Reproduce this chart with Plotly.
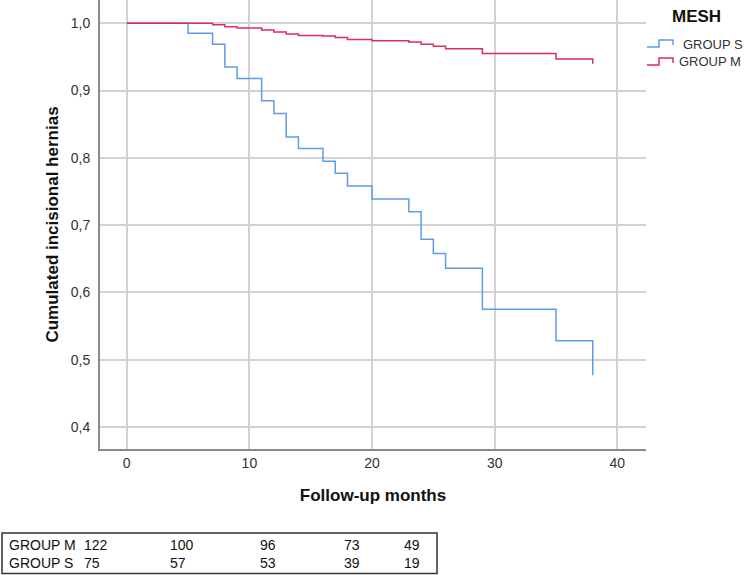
import plotly.graph_objects as go

# ---------------- data ----------------
months_s = [0, 5, 7, 8, 9, 11, 12, 13, 14, 16, 17, 18, 20, 23, 24, 25, 26, 29, 35, 38]
surv_s = [1.0, 0.985, 0.969, 0.935, 0.918, 0.885, 0.866, 0.831, 0.814, 0.795,
          0.777, 0.758, 0.739, 0.720, 0.679, 0.658, 0.636, 0.575, 0.528, 0.477]

months_m = [0, 7, 8, 9, 11, 12, 13, 14, 16, 17, 18, 20, 23, 24, 25, 26, 29, 35, 38]
surv_m = [1.0, 0.998, 0.995, 0.993, 0.990, 0.987, 0.984, 0.982, 0.981, 0.979,
          0.976, 0.974, 0.972, 0.969, 0.966, 0.962, 0.955, 0.947, 0.940]

series_names = ["GROUP S", "GROUP M"]
series_colors = ["#5e9ce8", "#dc2f55"]

risk_groups = ["GROUP M", "GROUP S"]
risk_m = [122, 100, 96, 73, 49]
risk_s = [75, 57, 53, 39, 19]

x_ticks = [0, 10, 20, 30, 40]
y_ticks = [0.4, 0.5, 0.6, 0.7, 0.8, 0.9, 1.0]

# ---------------- layout constants ----------------
W, H = 745, 575
ML, MR, MT, MB = 100, 99, 0, 126
PW = W - ML - MR
PH = H - MT - MB

def px(x):
    return (x - ML) / PW

def py(y):
    return (H - MB - y) / PH

FONT = "Liberation Sans, Arial, sans-serif"

fig = go.Figure()
fig.add_trace(go.Scatter(
    x=months_s, y=surv_s, mode="lines", line_shape="hv",
    name=series_names[0], line=dict(color=series_colors[0], width=1.5)))
fig.add_trace(go.Scatter(
    x=months_m, y=surv_m, mode="lines", line_shape="hv",
    name=series_names[1], line=dict(color=series_colors[1], width=1.5)))

annotations = []
shapes = []

# risk table
col_x = [82, 168, 258, 342, 402]
row_y = [545, 563]
for r, (grp, vals) in enumerate(zip(risk_groups, [risk_m, risk_s])):
    annotations.append(dict(
        x=px(7), y=py(row_y[r]), xref="paper", yref="paper", text=grp,
        showarrow=False, xanchor="left", yanchor="middle",
        font=dict(family=FONT, size=14, color="#111")))
    for c, v in enumerate(vals):
        annotations.append(dict(
            x=px(col_x[c]), y=py(row_y[r]), xref="paper", yref="paper", text=str(v),
            showarrow=False, xanchor="left", yanchor="middle",
            font=dict(family=FONT, size=14, color="#111")))

shapes.append(dict(type="rect", xref="paper", yref="paper",
                   x0=px(2), x1=px(437), y0=py(573.5), y1=py(533),
                   line=dict(color="#333", width=1.5), fillcolor="rgba(0,0,0,0)"))

# manual legend (step-shaped glyphs like the reference)
annotations.append(dict(
    x=px(697), y=py(16), xref="paper", yref="paper", text="<b>MESH</b>",
    showarrow=False, xanchor="center", yanchor="middle",
    font=dict(family=FONT, size=17, color="#111")))
leg_y = [44, 62]
leg_text_x = [681, 677]
for i in range(2):
    yc = leg_y[i]
    pts = [(647, yc + 3), (659, yc + 3), (659, yc - 4), (673, yc - 4), (673, yc + 1)]
    path = "M " + " L ".join(f"{px(a):.5f},{py(b):.5f}" for a, b in pts)
    shapes.append(dict(type="path", xref="paper", yref="paper", path=path,
                       line=dict(color=series_colors[i], width=1.5)))
    annotations.append(dict(
        x=px(leg_text_x[i]), y=py(yc), xref="paper", yref="paper",
        text=series_names[i],
        showarrow=False, xanchor="left", yanchor="middle",
        font=dict(family=FONT, size=13, color="#333")))

fig.update_layout(
    width=W, height=H,
    margin=dict(l=ML, r=MR, t=MT, b=MB, autoexpand=False),
    paper_bgcolor="white", plot_bgcolor="white",
    separators=",.",
    font=dict(family=FONT, size=14, color="#333"),
    showlegend=False,
    xaxis=dict(
        range=[-2.18, 42.34], tickvals=x_ticks, showgrid=True, automargin=False,
        gridcolor="#d3d3d3", gridwidth=1.5, zeroline=False,
        showline=True, linecolor="#8a8a8a", linewidth=2,
        ticks="", tickfont=dict(family=FONT, size=14, color="#333"),
        title=dict(text="<b>Follow-up months</b>", standoff=19,
                   font=dict(family=FONT, size=17, color="#111"))),
    yaxis=dict(
        range=[0.3673, 1.0346], tickvals=y_ticks, tickformat=".1f", automargin=False,
        showgrid=True, gridcolor="#d3d3d3", gridwidth=1.5, zeroline=False,
        showline=True, linecolor="#8a8a8a", linewidth=2,
        ticks="outside", ticklen=5, tickcolor="rgba(0,0,0,0)",
        tickfont=dict(family=FONT, size=14, color="#333"),
        title=dict(text="<b>Cumulated incisional hernias</b>", standoff=8,
                   font=dict(family=FONT, size=17, color="#111"))),
    annotations=annotations,
    shapes=shapes,
)

fig.write_html("out.html",
               config={"displayModeBar": False},
               post_script="document.body.style.margin='0';document.body.style.overflow='hidden';")
